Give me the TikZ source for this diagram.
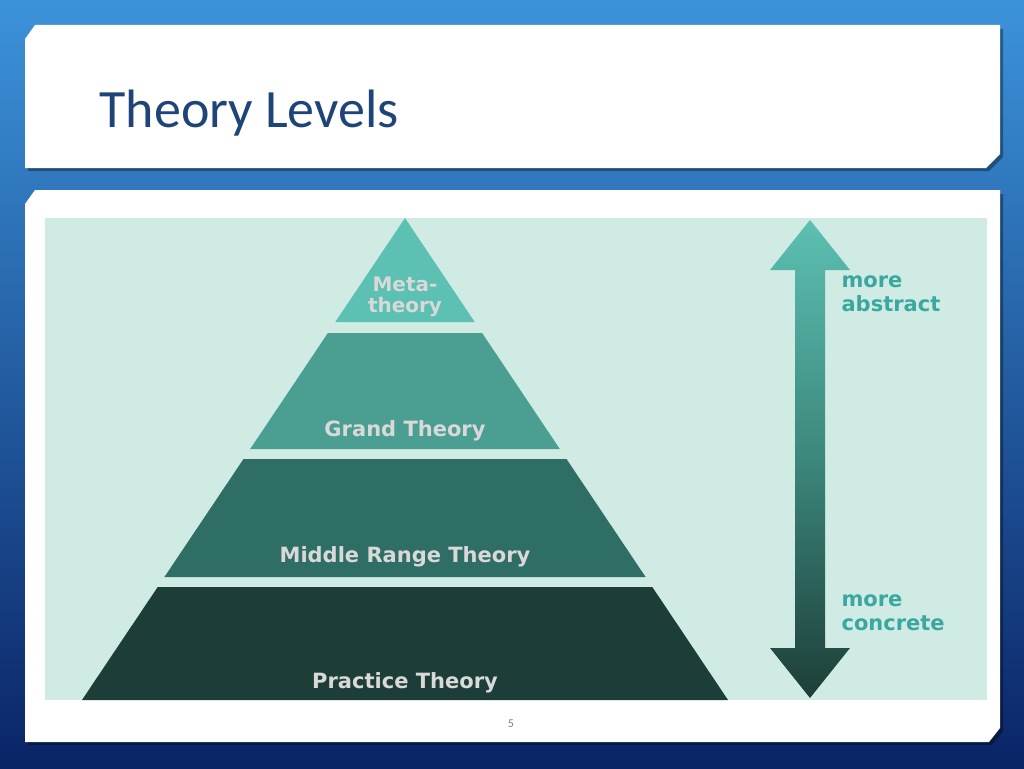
\documentclass[tikz,border=0pt]{standalone}
\usepackage{fontspec}
\setmainfont{Carlito}
\newfontfamily\lab{DejaVu Sans}
\begin{document}
\begin{tikzpicture}[x=1pt,y=-1pt]
\definecolor{bgtop}{HTML}{3C93DA}\definecolor{bgbot}{HTML}{0A2466}
\definecolor{mint}{HTML}{CFEBE4}
\definecolor{c1}{HTML}{5CC0B2}\definecolor{c2}{HTML}{4A9E92}
\definecolor{c3}{HTML}{2F6E64}\definecolor{c4}{HTML}{1D3E38}
\definecolor{tealtxt}{HTML}{3AA89E}\definecolor{titlec}{HTML}{1F4477}
\tikzset{lvl/.style={font=\lab\bfseries\fontsize{21}{23}\selectfont,text=white!85!black,align=center},
side/.style={font=\lab\bfseries\fontsize{21}{24}\selectfont,text=tealtxt,align=left,anchor=north west}}
\useasboundingbox (0,0) rectangle (1024,768);
\shade[top color=bgtop,bottom color=bgbot] (0,0) rectangle (1024,768);
\fill[black,opacity=0.35] (38,29) -- (1003,29) -- (1003,157) -- (989,171) -- (28,171) -- (28,43) -- cycle;
\fill[white] (35,25) -- (1000,25) -- (1000,154) -- (986,168) -- (25,168) -- (25,39) -- cycle;
\fill[black,opacity=0.35] (38,194) -- (1003,194) -- (1003,731) -- (992,745) -- (28,745) -- (28,208) -- cycle;
\fill[white] (35,190) -- (1000,190) -- (1000,728) -- (989,742) -- (25,742) -- (25,204) -- cycle;
\node[anchor=base west,font=\fontsize{54}{58}\selectfont,text=titlec] (title) at (96,127) {Theory Levels};
\fill[mint] (45,218) rectangle (987,700);
\fill[c1] (405,218) -- (474.7,322) -- (335.3,322) -- cycle;
\fill[c2] (327.9,333) -- (482.1,333) -- (559.8,449) -- (250.2,449) -- cycle;
\fill[c3] (243.5,459) -- (566.5,459) -- (645.6,577) -- (164.4,577) -- cycle;
\fill[c4] (157.7,587) -- (652.3,587) -- (728,700) -- (82,700) -- cycle;
\node[lvl,font=\lab\bfseries\fontsize{20}{21}\selectfont] (meta) at (405,297) {Meta-\\theory};
\node[lvl] (grand) at (405,431) {Grand Theory};
\node[lvl] (middle) at (405,557) {Middle Range Theory};
\node[lvl] (practice) at (405,683) {Practice Theory};
\shade[top color=c1,bottom color=c4,middle color=c3!70!c1]
 (810,220) -- (850,270) -- (825,270) -- (825,648) -- (850,648) -- (810,698) -- (770,648) -- (795,648) -- (795,270) -- (770,270) -- cycle;
\node[side] (abs) at (838,272) {more\\abstract};
\node[side] (con) at (838,591) {more\\concrete};
\node[font=\fontsize{12}{14}\selectfont,text=gray] (pg) at (511,724) {5};
\end{tikzpicture}
\end{document}
